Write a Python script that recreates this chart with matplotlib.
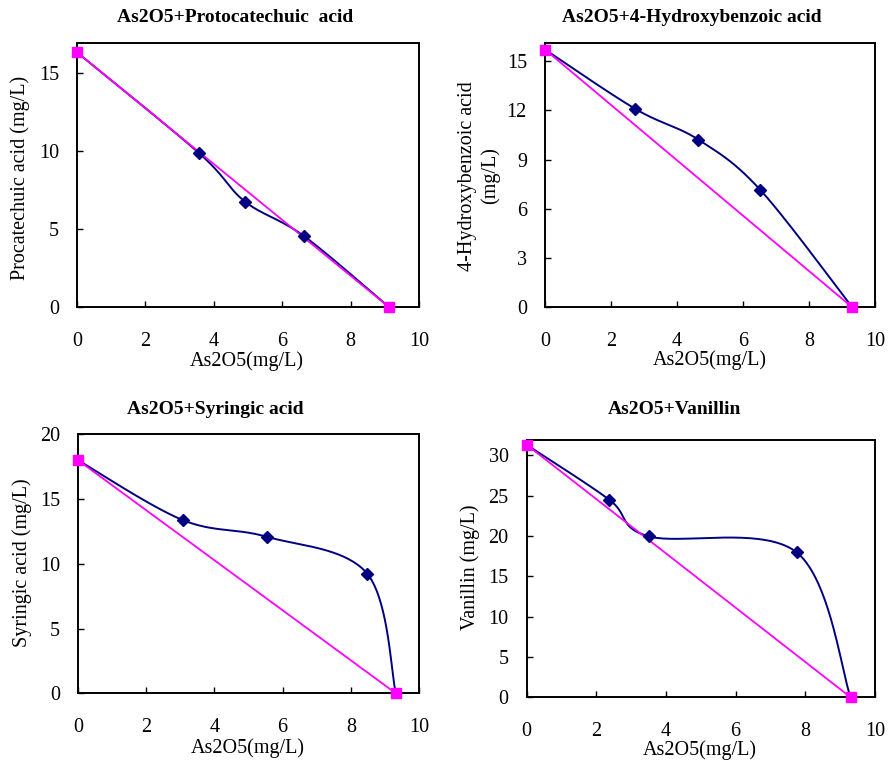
import numpy as np
import matplotlib
matplotlib.use("Agg")
import matplotlib.pyplot as plt

plt.rcParams['font.family'] = ['Liberation Serif', 'DejaVu Serif']

# ---------------- data ----------------
titles = ["As2O5+Protocatechuic  acid", "As2O5+4-Hydroxybenzoic acid",
          "As2O5+Syringic acid", "As2O5+Vanillin"]
ylabels = ["Procatechuic acid (mg/L)", "4-Hydroxybenzoic acid\n(mg/L)",
           "Syringic acid (mg/L)", "Vanillin (mg/L)"]
xlabel = "As2O5(mg/L)"

# measured mixture points (blue)
mix_x_proto = [0.0, 3.57, 4.91, 6.63, 9.12]
mix_y_proto = [16.3, 9.85, 6.75, 4.55, 0.0]
mix_x_hydro = [0.0, 2.74, 4.65, 6.52, 9.31]
mix_y_hydro = [15.7, 12.08, 10.21, 7.16, 0.0]
mix_x_syr = [0.0, 3.07, 5.53, 8.48, 9.32]
mix_y_syr = [18.0, 13.38, 12.09, 9.24, 0.0]
mix_x_van = [0.0, 2.37, 3.51, 7.75, 9.30]
mix_y_van = [31.3, 24.5, 19.95, 17.97, 0.0]

# ideal (additive) line endpoints (magenta)
ideal_x_proto = [0.0, 9.12]
ideal_y_proto = [16.3, 0.0]
ideal_x_hydro = [0.0, 9.31]
ideal_y_hydro = [15.7, 0.0]
ideal_x_syr = [0.0, 9.32]
ideal_y_syr = [18.0, 0.0]
ideal_x_van = [0.0, 9.30]
ideal_y_van = [31.3, 0.0]

yticks_proto = [0, 5, 10, 15]
yticks_hydro = [0, 3, 6, 9, 12, 15]
yticks_syr = [0, 5, 10, 15, 20]
yticks_van = [0, 5, 10, 15, 20, 25, 30]
ymax_list = [16.9, 16.08, 20, 31.9]
xticks = [0, 2, 4, 6, 8, 10]

# ---------------- layout ----------------
W, H = 890, 764
fig = plt.figure(figsize=(W / 100, H / 100), dpi=100)

def fr(l, t, r, b):
    return [l / W, 1 - b / H, (r - l) / W, (b - t) / H]

axes_px = [(77, 43, 419, 307), (545, 43.3, 875, 307.3),
           (78, 434.3, 419, 693.3), (526.7, 440, 875, 697.3)]
title_pos = [(235, 18), (692, 18), (215, 410), (675, 410)]
xlabel_pos = [(247, 361), (710, 360), (248, 748), (700, 750)]
ylabel_pos = [(20, 178), (479, 176), (22, 563), (470, 567)]

series = [
    (mix_x_proto, mix_y_proto, ideal_x_proto, ideal_y_proto, yticks_proto),
    (mix_x_hydro, mix_y_hydro, ideal_x_hydro, ideal_y_hydro, yticks_hydro),
    (mix_x_syr, mix_y_syr, ideal_x_syr, ideal_y_syr, yticks_syr),
    (mix_x_van, mix_y_van, ideal_x_van, ideal_y_van, yticks_van),
]

def smooth(x, y, n=40):
    """Catmull-Rom style Bezier smoothing (like a spreadsheet 'smoothed line')."""
    P = np.column_stack([x, y]).astype(float)
    P = np.vstack([P[0], P, P[-1]])
    out = []
    for i in range(1, len(P) - 2):
        p0, p1, p2, p3 = P[i - 1], P[i], P[i + 1], P[i + 2]
        c1 = p1 + (p2 - p0) / 6.0
        c2 = p2 - (p3 - p1) / 6.0
        t = np.linspace(0, 1, n)[:, None]
        seg = ((1 - t) ** 3) * p1 + 3 * ((1 - t) ** 2) * t * c1 + 3 * (1 - t) * t ** 2 * c2 + t ** 3 * p2
        out.append(seg if i == 1 else seg[1:])
    seg = np.vstack(out)
    return seg[:, 0], seg[:, 1]

navy = '#000080'
mag = '#FF00FF'

for k, (mx, my, ix, iy, yt) in enumerate(series):
    ax = fig.add_axes(fr(*axes_px[k]))
    sx, sy = smooth(mx, my)
    ax.plot(sx, sy, color=navy, lw=1.4, zorder=2, clip_on=False)
    ax.plot(ix, iy, color=mag, lw=1.3, zorder=3, clip_on=False)
    ax.plot(mx[1:-1], my[1:-1], ls='none', marker='D', ms=6.5, color=navy, zorder=4, clip_on=False)
    ax.plot(ix, iy, ls='none', marker='s', ms=7.5, color=mag, zorder=5, clip_on=False)
    ax.set_xlim(0, 10)
    ax.set_ylim(0, ymax_list[k])
    ax.set_xticks(xticks)
    ax.set_yticks(yt)
    ax.tick_params(direction='in', length=4.5, width=1, labelsize=14.5, top=False, right=False)
    ax.tick_params(axis='x', pad=18)
    ax.tick_params(axis='y', pad=13)
    for s in ax.spines.values():
        s.set_linewidth(1.4)
    tx, ty = title_pos[k]
    fig.text(tx / W, 1 - ty / H, titles[k], ha='center', va='center', fontsize=14, fontweight='bold')
    lx, ly = xlabel_pos[k]
    fig.text(lx / W, 1 - ly / H, xlabel, ha='center', va='center', fontsize=14.5)
    yx, yy = ylabel_pos[k]
    fig.text(yx / W, 1 - yy / H, ylabels[k], ha='center', va='center', rotation=90,
             fontsize=14.5, linespacing=1.25, multialignment='center')

fig.savefig("out.png", dpi=100)
